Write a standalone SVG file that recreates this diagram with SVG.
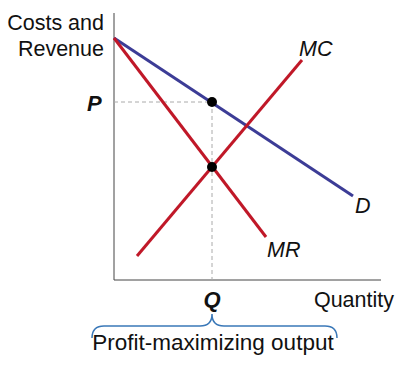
<svg xmlns="http://www.w3.org/2000/svg" width="400" height="370" viewBox="0 0 400 370">
<style>
text{font-family:"Liberation Sans",Arial,sans-serif;font-size:21.5px;fill:#111}
.it{font-style:italic}
.bi{font-style:italic;font-weight:bold;font-size:22px}
.axis{stroke:#444;stroke-width:1;fill:none}
.dash{stroke:#aaa;stroke-width:1;stroke-dasharray:4 3;fill:none}
.red{stroke:#c01828;stroke-width:3;fill:none}
.blue{stroke:#3c3c96;stroke-width:3;fill:none}
.dot{fill:#000}
</style>
<rect width="400" height="370" fill="#fff"/>
<g id="axes">
<path class="axis" d="M114 13 V280 H381"/>
<text x="104" y="30" text-anchor="end">Costs and</text>
<text x="104" y="56" text-anchor="end">Revenue</text>
<text x="394" y="307" text-anchor="end">Quantity</text>
</g>
<g id="connectors">
<path class="dash" d="M114 102 H212"/>
<path class="dash" d="M212 102 V280"/>
</g>
<g id="D">
<path class="blue" d="M114 38 L353 196"/>
<text class="it" x="355" y="213">D</text>
</g>
<g id="MR">
<path class="red" d="M114 38 L266 237"/>
<text class="it" x="267" y="257">MR</text>
</g>
<g id="MC">
<path class="red" d="M137 256 L302 60"/>
<text class="it" x="299" y="56">MC</text>
</g>
<g id="points">
<circle class="dot" cx="212" cy="102" r="5"/>
<circle class="dot" cx="212" cy="167" r="5"/>
</g>
<g id="P"><text class="bi" x="87" y="111">P</text></g>
<g id="Q"><text class="bi" x="212" y="307" text-anchor="middle">Q</text></g>
<g id="brace">
<path d="M92 338 Q92 326 104 326 H200 Q212 326 212 314 Q212 326 224 326 H325 Q337 326 337 338" fill="none" stroke="#3a78b8" stroke-width="1.5"/>
<text x="213" y="350" text-anchor="middle" style="font-size:22.5px">Profit-maximizing output</text>
</g>
</svg>
